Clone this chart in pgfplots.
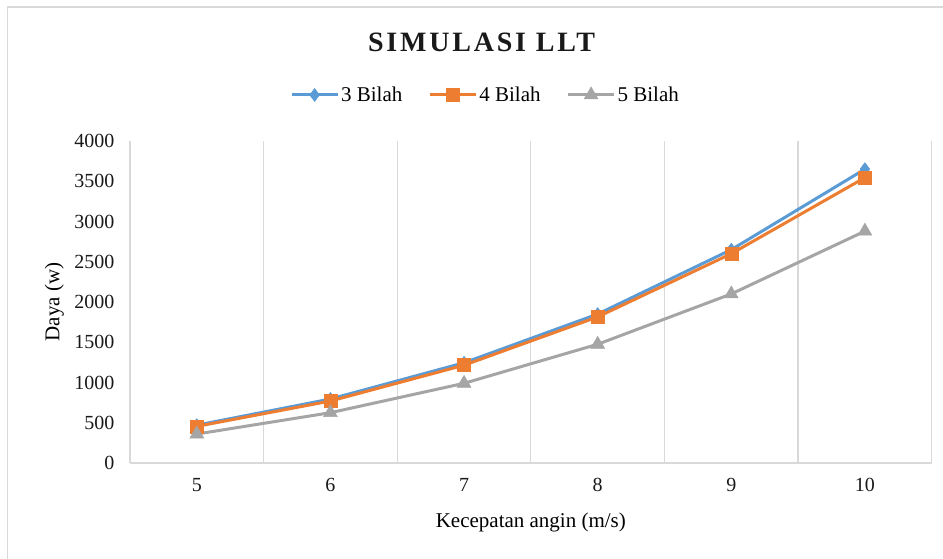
\documentclass[border=0pt]{standalone}
\usepackage{fontspec}
\setmainfont{Liberation Serif}
\usepackage{pgfplots}
\pgfplotsset{compat=1.18}

\definecolor{seriesblue}{HTML}{5B9BD5}
\definecolor{seriesorange}{HTML}{ED7D31}
\definecolor{seriesgray}{HTML}{A5A5A5}
\definecolor{gridgray}{HTML}{D9D9D9}

\begin{document}
\begin{tikzpicture}
\path[use as bounding box] (-130pt,-95pt) rectangle (813pt,463pt);
% outer chart frame (left and top edges)
\draw[gridgray, line width=1.5pt] (-122.5pt,-96pt) -- (-122.5pt,456pt) -- (814pt,456pt);

\begin{axis}[
  at={(0,0)}, anchor=south west,
  scale only axis, width=801.7pt, height=322pt,
  xmin=4.5, xmax=10.5, ymin=0, ymax=4000,
  xtick={5,6,7,8,9,10}, ytick={0,500,...,4000},
  minor xtick={4.5,5.5,...,10.5},
  xminorgrids, minor x grid style={gridgray, line width=1.2pt},
  major tick length=0pt, minor tick length=0pt,
  axis x line*=bottom, axis y line*=left,
  x axis line style={gridgray, line width=1.2pt, -},
  y axis line style={draw=none},
  /pgf/number format/assume math mode=true,
  /pgf/number format/1000 sep={},
  tick label style={font=\fontsize{20}{24}\selectfont, text=black!90},
  xticklabel style={yshift=-12pt},
  yticklabel style={xshift=-12pt},
  xlabel={Kecepatan angin (m/s)},
  ylabel={Daya (w)},
  label style={font=\fontsize{21}{24}\selectfont},
  xlabel style={at={(axis description cs:0.5,-0.2009)}, anchor=base},
  ylabel style={at={(axis description cs:-0.0882,0.5)}, anchor=base},
  legend columns=3,
  legend style={draw=none, fill=none, at={(0.4434,1.143)}, anchor=center,
    font=\fontsize{21}{24}\selectfont,
    /tikz/every even column/.append style={column sep=24pt}},
  legend image code/.code={%
    \draw[mark repeat=2, mark phase=2, #1]
      plot coordinates {(0pt,0pt) (23pt,0pt) (46pt,0pt)};},
  every axis plot/.append style={line width=3pt},
]
\addplot[seriesblue, mark=diamond*, mark size=6.5pt,
  mark options={fill=seriesblue, draw=seriesblue, line width=0.5pt}]
  coordinates {(5,470) (6,795) (7,1245) (8,1850) (9,2650) (10,3650)};
\addlegendentry{3 Bilah}
\addplot[seriesorange, mark=square*, mark size=6.5pt,
  mark options={fill=seriesorange, draw=seriesorange, line width=0.5pt}]
  coordinates {(5,455) (6,770) (7,1215) (8,1815) (9,2600) (10,3545)};
\addlegendentry{4 Bilah}
\addplot[seriesgray, mark=triangle*, mark size=8pt,
  mark options={fill=seriesgray, draw=seriesgray, line width=0.5pt}]
  coordinates {(5,360) (6,625) (7,990) (8,1475) (9,2100) (10,2880)};
\addlegendentry{5 Bilah}
\end{axis}

\node[font=\fontsize{28}{32}\selectfont\bfseries\addfontfeature{LetterSpace=10}, text=black!90]
  at (351.5pt,421pt) {SIMULASI LLT};
\end{tikzpicture}
\end{document}
